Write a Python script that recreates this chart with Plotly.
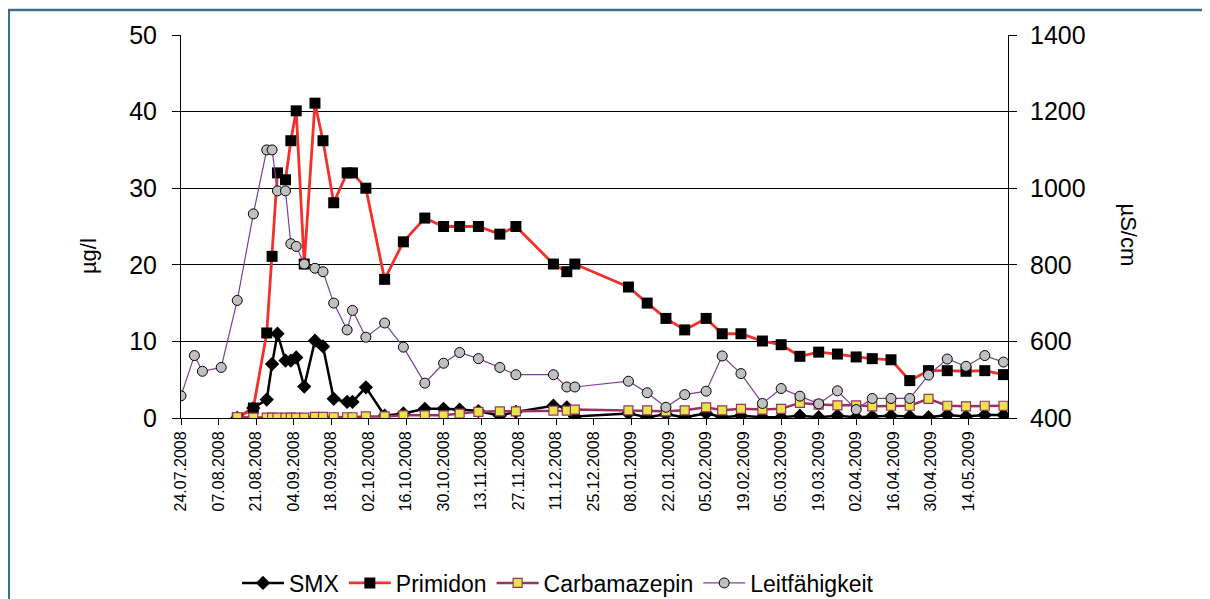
import plotly.graph_objects as go
from datetime import datetime

# ---- data ----
leit_dates = ["2008-07-24", "2008-07-29", "2008-08-01", "2008-08-08"]
conc_dates = [
    "2008-08-14", "2008-08-20", "2008-08-25", "2008-08-27", "2008-08-29", "2008-09-01",
    "2008-09-03", "2008-09-05", "2008-09-08", "2008-09-12", "2008-09-15", "2008-09-19",
    "2008-09-24", "2008-09-26", "2008-10-01", "2008-10-08", "2008-10-15", "2008-10-23",
    "2008-10-30", "2008-11-05", "2008-11-12", "2008-11-20", "2008-11-26", "2008-12-10",
    "2008-12-15", "2008-12-18",
    "2009-01-07", "2009-01-14", "2009-01-21", "2009-01-28", "2009-02-05", "2009-02-11",
    "2009-02-18", "2009-02-26", "2009-03-05", "2009-03-12", "2009-03-19", "2009-03-26",
    "2009-04-02", "2009-04-08", "2009-04-15", "2009-04-22", "2009-04-29", "2009-05-06",
    "2009-05-13", "2009-05-20", "2009-05-27",
]

smx = [0, 1.3, 2.4, 7.05, 11.0, 7.5, 7.5, 7.9, 4.1, 10.1, 9.35, 2.5, 2.1, 2.1, 4.0,
       0.3, 0.6, 1.2, 1.2, 1.1, 0.9, 0.3, 0.8, 1.6, 1.4, 0.2,
       0.6, 0.1, 0.5, 0.1, 0.6, 0.1, 0.3, 0.1, 0.1, 0.3, 0.1, 0.3, 0.1, 0.2, 0.3,
       0.2, 0.1, 0.4, 0.2, 0.4, 0.4]

primidon = [0, 1.3, 11.1, 21.1, 32.0, 31.1, 36.2, 40.1, 20.1, 41.1, 36.2, 28.1, 32.0,
            32.0, 30.0, 18.1, 23.0, 26.1, 25.0, 25.0, 25.0, 24.0, 25.0, 20.1, 19.1, 20.1,
            17.1, 15.0, 13.0, 11.5, 13.0, 11.0, 11.0, 10.05, 9.57, 8.05, 8.6, 8.35, 7.97,
            7.75, 7.6, 4.88, 6.18, 6.18, 6.1, 6.18, 5.66]

carbamazepin = [0.1, 0.05, 0.05, 0.05, 0.05, 0.05, 0.05, 0.05, 0.05, 0.15, 0.15, 0.1,
                0.1, 0.1, 0.2, 0.2, 0.35, 0.35, 0.35, 0.57, 0.8, 0.87, 0.87, 0.96, 0.96, 1.1,
                1.0, 1.0, 0.87, 1.0, 1.4, 1.0, 1.2, 1.1, 1.2, 1.97, 1.75, 1.66, 1.66, 1.53,
                1.6, 1.6, 2.5, 1.6, 1.53, 1.6, 1.6]

leitfaehigkeit = [458, 563, 522, 532, 707, 933, 1100, 1100, 993, 993, 855, 848, 802, 791,
                  782, 700, 630, 681, 611, 648, 585, 491, 543, 571, 555, 532, 513, 513,
                  481, 481, 496, 466, 428, 461, 470, 562, 516, 438, 477, 457, 437, 471,
                  422, 451, 451, 451, 512, 554, 535, 563, 546]

tick_labels = ["24.07.2008", "07.08.2008", "21.08.2008", "04.09.2008", "18.09.2008",
               "02.10.2008", "16.10.2008", "30.10.2008", "13.11.2008", "27.11.2008",
               "11.12.2008", "25.12.2008", "08.01.2009", "22.01.2009", "05.02.2009",
               "19.02.2009", "05.03.2009", "19.03.2009", "02.04.2009", "16.04.2009",
               "30.04.2009", "14.05.2009"]

tick_vals = [datetime.strptime(t, "%d.%m.%Y").strftime("%Y-%m-%d") for t in tick_labels]
all_dates = leit_dates + conc_dates

FONT = "Liberation Sans, Arial, sans-serif"

fig = go.Figure()
fig.add_trace(go.Scatter(
    x=conc_dates, y=smx, name="SMX", mode="lines+markers",
    line=dict(color="black", width=2.5),
    marker=dict(symbol="diamond", size=11, color="black", line=dict(width=0)),
))
fig.add_trace(go.Scatter(
    x=conc_dates, y=primidon, name="Primidon", mode="lines+markers",
    line=dict(color="#F5302A", width=2.8),
    marker=dict(symbol="square", size=11, color="black", line=dict(width=0)),
))
fig.add_trace(go.Scatter(
    x=conc_dates, y=carbamazepin, name="Carbamazepin", mode="lines+markers",
    line=dict(color="#993366", width=2.5),
    marker=dict(symbol="square", size=9, color="#E6E64A", line=dict(color="#993366", width=1.2)),
))
fig.add_trace(go.Scatter(
    x=all_dates, y=leitfaehigkeit, name="Leitfähigkeit", mode="lines+markers",
    yaxis="y2",
    line=dict(color="#7F3F98", width=1.2),
    marker=dict(symbol="circle", size=10, color="#C0C0C0", line=dict(color="black", width=1)),
))

# page coordinates (the page body adds an 8 px offset)
OFF = 8
L, R, T, B = 180.7 - OFF, 1007.7 - OFF, 35.0 - OFF, 418.4 - OFF
W, H = 1210 - OFF, 599 - OFF
pw, ph = R - L, B - T

def px(x):
    return (x - OFF - L) / pw

def py(y):
    return (B - (y - OFF)) / ph

fig.update_layout(
    width=W, height=H,
    margin=dict(l=L, r=W - R, t=T, b=H - B, pad=0, autoexpand=False),
    paper_bgcolor="white", plot_bgcolor="white",
    font=dict(family=FONT, color="black"),
    showlegend=True,
    legend=dict(orientation="h", xref="container", yref="container",
                x=(558 - OFF) / W, xanchor="center", y=1 - (583 - OFF) / H, yanchor="middle",
                font=dict(size=23, family=FONT), bgcolor="rgba(0,0,0,0)",
                itemwidth=42, tracegroupgap=0),
    xaxis=dict(
        type="date", range=["2008-07-24", "2009-05-28 16:00"], automargin=False,
        tickmode="array", tickvals=tick_vals, ticktext=tick_labels,
        tickangle=-90, tickfont=dict(size=16, family=FONT),
        ticks="outside", ticklen=6, tickcolor="black", tickwidth=1,
        showline=True, linecolor="black", linewidth=1, showgrid=False, zeroline=False,
    ),
    yaxis=dict(
        range=[0, 50], tickmode="linear", tick0=0, dtick=10, automargin=False,
        tickfont=dict(size=25, family=FONT), ticklabelstandoff=10,
        ticks="outside", ticklen=8, tickcolor="black", tickwidth=1,
        showline=True, linecolor="black", linewidth=1,
        showgrid=True, gridcolor="black", gridwidth=1, zeroline=False,
    ),
    yaxis2=dict(
        range=[400, 1400], tickmode="linear", tick0=400, dtick=200, automargin=False,
        overlaying="y", side="right",
        tickfont=dict(size=25, family=FONT), ticklabelstandoff=8,
        ticks="outside", ticklen=8, tickcolor="black", tickwidth=1,
        showline=True, linecolor="black", linewidth=1,
        showgrid=False, zeroline=False,
    ),
    annotations=[
        dict(text="µg/l", xref="paper", yref="paper", x=px(88), y=py(256),
             showarrow=False, textangle=-90, font=dict(size=22, family=FONT),
             xanchor="center", yanchor="middle"),
        dict(text="µS/cm", xref="paper", yref="paper", x=px(1128), y=py(235),
             showarrow=False, textangle=90, font=dict(size=22, family=FONT),
             xanchor="center", yanchor="middle"),
    ],
    shapes=[
        dict(type="rect", xref="paper", yref="paper",
             x0=px(8.5), x1=px(1230), y0=py(10), y1=py(640),
             line=dict(color="#3F6F88", width=2.5), fillcolor="rgba(0,0,0,0)", layer="below"),
    ],
)

fig.write_html("out.html")
